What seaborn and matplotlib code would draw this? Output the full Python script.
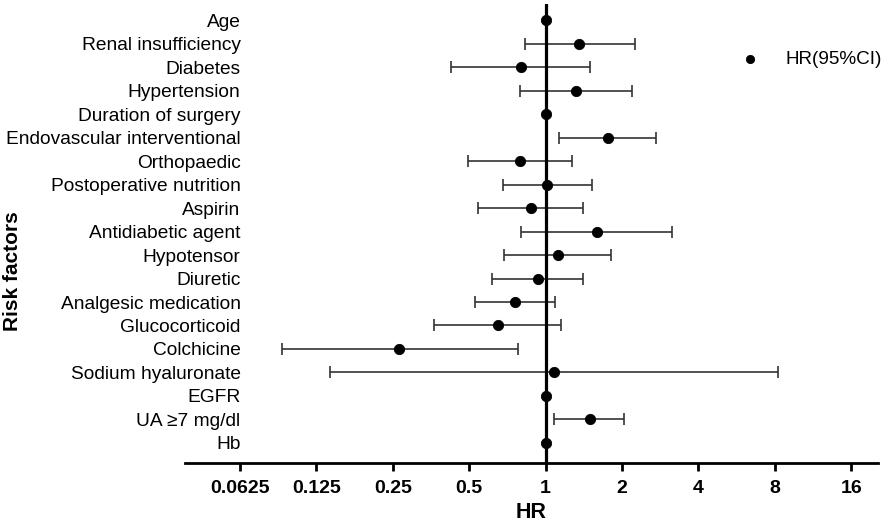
import numpy as np
import pandas as pd
import seaborn as sns
import matplotlib.pyplot as plt

# values (HR and 95% CI, log2 axis)
factors = ['Age', 'Renal insufficiency', 'Diabetes', 'Hypertension', 'Duration of surgery',
           'Endovascular interventional', 'Orthopaedic', 'Postoperative nutrition', 'Aspirin',
           'Antidiabetic agent', 'Hypotensor', 'Diuretic', 'Analgesic medication', 'Glucocorticoid',
           'Colchicine', 'Sodium hyaluronate', 'EGFR', 'UA \u22657 mg/dl', 'Hb']
hr = [1.0, 1.36, 0.80, 1.32, 1.0, 1.76, 0.79, 1.015, 0.88, 1.59, 1.115, 0.93, 0.76, 0.65,
      0.265, 1.08, 1.0, 1.49, 1.0]
ci_low = [np.nan, 0.826, 0.424, 0.795, np.nan, 1.13, 0.496, 0.677, 0.54, 0.797, 0.685, 0.617,
          0.529, 0.365, 0.0912, 0.141, np.nan, 1.08, np.nan]
ci_high = [np.nan, 2.24, 1.49, 2.19, np.nan, 2.73, 1.27, 1.52, 1.41, 3.16, 1.81, 1.40,
           1.09, 1.15, 0.778, 8.24, np.nan, 2.04, np.nan]
xticks = [0.0625, 0.125, 0.25, 0.5, 1, 2, 4, 8, 16]
xtick_labels = ['0.0625', '0.125', '0.25', '0.5', '1', '2', '4', '8', '16']

df = pd.DataFrame({'factor': factors, 'HR': hr, 'low': ci_low, 'high': ci_high})
df['pos'] = np.arange(len(df))

sns.set_theme(style='white', rc={'text.color': 'black', 'axes.labelcolor': 'black',
                                 'xtick.color': 'black', 'ytick.color': 'black'})
plt.rcParams['font.family'] = ['Liberation Sans', 'DejaVu Sans']
narrow = ['Liberation Sans Narrow', 'Liberation Sans']

fig = plt.figure(figsize=(8.96, 5.26), dpi=100)
ax = fig.add_axes([0.2065, 0.12, 0.7735, 0.872])

ci = df.dropna()
ax.errorbar(ci['HR'], ci['pos'], xerr=[ci['HR'] - ci['low'], ci['high'] - ci['HR']],
            fmt='none', ecolor='#333333', elinewidth=1.2, capsize=4, capthick=1.2, zorder=2)
ax.axvline(1, color='black', lw=2.3, zorder=3)
sns.scatterplot(data=df, x='HR', y='pos', color='black', s=55, edgecolor='black',
                label='HR(95%CI)', ax=ax, zorder=4)

ax.set_xscale('log', base=2)
ax.set_xlim(0.038, 20.4)
ax.set_ylim(len(df) - 1 + 0.85, -0.68)
ax.set_xticks(xticks)
ax.set_xticklabels(xtick_labels, fontweight='bold', fontsize=14, family=narrow)
ax.minorticks_off()
ax.set_yticks(df['pos'])
ax.set_yticklabels(df['factor'], fontsize=13.8)
ax.tick_params(axis='x', direction='out', length=6, width=2, color='black', pad=6, bottom=True)
ax.tick_params(axis='y', length=0, pad=-40)

sns.despine(ax=ax, left=True)
ax.spines['bottom'].set_linewidth(2)
ax.spines['bottom'].set_color('black')

ax.set_xlabel('HR', fontsize=15.5, fontweight='bold', labelpad=4, family=narrow)
ax.set_ylabel('Risk factors', fontsize=15, fontweight='bold')
ax.yaxis.set_label_coords(-0.235, 0.418)

ax.legend(loc='upper right', bbox_to_anchor=(1.03, 0.935), frameon=False, fontsize=13.6,
          handletextpad=0.9, markerscale=0.8)

fig.savefig('out.png', dpi=100)
